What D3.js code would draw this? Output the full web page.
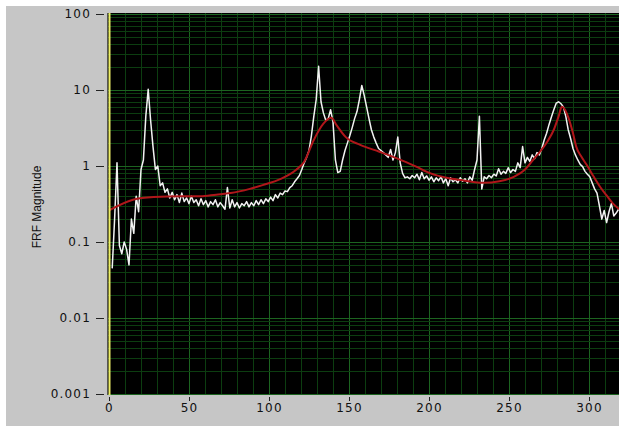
<!DOCTYPE html>
<html>
<head>
<meta charset="utf-8">
<script src="https://cdn.jsdelivr.net/npm/d3@7"></script>
<style>
  html, body { margin: 0; padding: 0; background: #fff; }
  svg { display: block; }
</style>
</head>
<body>
<svg id="chart" width="619" height="426"></svg>
<script>
// measured FRF, uniform frequency grid
const freqStart = 2;
const freqStep = 1.5;
const frfMag = [
  0.045, 0.2, 1.1, 0.09, 0.07, 0.1, 0.08, 0.05, 0.2, 0.13,
  0.4, 0.25, 0.9, 1.2, 4.5, 10.2, 4.0, 1.8, 0.9, 1.0,
  0.55, 0.6, 0.45, 0.5, 0.38, 0.45, 0.36, 0.42, 0.33, 0.44,
  0.34, 0.38, 0.32, 0.40, 0.33, 0.36, 0.30, 0.37, 0.31, 0.35,
  0.29, 0.34, 0.31, 0.36, 0.29, 0.33, 0.30, 0.27, 0.52, 0.28,
  0.36, 0.29, 0.33, 0.28, 0.32, 0.30, 0.34, 0.29, 0.33, 0.30,
  0.35, 0.31, 0.36, 0.32, 0.37, 0.34, 0.39, 0.35, 0.42, 0.38,
  0.44, 0.42, 0.47, 0.46, 0.52, 0.55, 0.62, 0.68, 0.75, 0.9,
  1.1, 1.3, 1.6, 2.5, 4.5, 7.5, 20.5, 7.0, 5.0, 4.0,
  4.2, 5.5, 3.8, 1.2, 0.82, 0.85, 1.2, 1.6, 2.0, 2.5,
  3.2, 4.2, 5.2, 7.5, 11.5, 8.5, 6.0, 4.2, 3.0, 2.4,
  2.0, 1.7, 1.6, 1.5, 1.4, 1.3, 1.65, 1.2, 1.5, 2.4,
  1.1, 0.8, 0.7, 0.72, 0.68, 0.75, 0.7, 0.78, 0.66, 0.82,
  0.68, 0.74, 0.65, 0.72, 0.62, 0.7, 0.64, 0.72, 0.6, 0.68,
  0.55, 0.7, 0.62, 0.66, 0.6, 0.7, 0.63, 0.68, 0.6, 0.72,
  0.65, 0.9, 1.2, 4.5, 0.5, 0.72, 0.68, 0.75, 0.7, 0.78,
  0.74, 0.92, 0.78, 0.85, 0.8, 0.95, 0.82, 0.9, 0.85, 1.1,
  0.95, 1.8, 1.1, 1.3, 1.15, 1.4, 1.25, 1.5, 1.4, 1.7,
  2.2, 2.7, 3.5, 4.4, 5.5, 6.7, 7.0, 6.6, 6.0, 4.5,
  3.0, 2.3, 1.7, 1.4, 1.2, 1.05, 0.98, 0.85, 0.78, 0.72,
  0.6, 0.5, 0.44, 0.3, 0.2, 0.26, 0.18, 0.25, 0.32, 0.22,
  0.24, 0.27
];

// curve fit
const fitFreq = [0, 15, 28, 45, 57, 67, 76, 88, 96, 107, 117, 122, 128, 134, 139,
  142, 148, 157, 169, 180, 192, 201, 211, 221, 234, 244, 253, 260, 265, 270,
  274, 278, 281, 283, 285, 287, 290, 292, 295, 299, 303, 307, 311, 315, 319];
const fitMag = [0.26, 0.36, 0.39, 0.40, 0.40, 0.42, 0.44, 0.50, 0.56, 0.67, 0.89, 1.14, 2.2, 3.6, 4.3,
  3.5, 2.4, 1.9, 1.54, 1.26, 0.98, 0.8, 0.7, 0.65, 0.6, 0.63, 0.72, 0.9, 1.2, 1.6,
  2.1, 3.0, 4.5, 6.0, 5.5, 4.4, 2.7, 1.8, 1.35, 1.0, 0.72, 0.53, 0.41, 0.32, 0.27];

const xTicks = [0, 50, 100, 150, 200, 250, 300];
const yTicks = [100, 10, 1, 0.1, 0.01, 0.001];
const yTickLabels = ['100', '10', '1', '0.1', '0.01', '0.001'];

const W = 619, H = 426;
const plot = { left: 107, right: 619, top: 13, bottom: 395 };

const svg = d3.select('#chart');

svg.append('rect')
  .attr('x', 6).attr('y', 6)
  .attr('width', W - 6).attr('height', H - 6)
  .attr('fill', '#c6c6c6');

const x = d3.scaleLinear().domain([0, 318.75]).range([109, 619]);
const y = d3.scaleLog().domain([0.001, 100]).range([394, 14]);

svg.append('defs').append('clipPath').attr('id', 'clip')
  .append('rect')
  .attr('x', plot.left).attr('y', plot.top)
  .attr('width', plot.right - plot.left).attr('height', plot.bottom - plot.top);

svg.append('rect')
  .attr('x', plot.left).attr('y', plot.top)
  .attr('width', plot.right - plot.left).attr('height', plot.bottom - plot.top)
  .attr('fill', '#000');

const grid = svg.append('g').attr('clip-path', 'url(#clip)');
const minorCol = '#0c3d10';
const majorCol = '#1c6420';

// vertical grid, every 10, brighter on 50s
grid.selectAll('line.vx')
  .data(d3.range(10, 320, 10))
  .join('line')
  .attr('x1', d => Math.round(x(d)) + 0.5).attr('x2', d => Math.round(x(d)) + 0.5)
  .attr('y1', plot.top).attr('y2', plot.bottom)
  .attr('stroke', d => d % 50 === 0 ? majorCol : minorCol)
  .attr('stroke-width', 1);

// horizontal grid, log minors
const minors = [];
[0.001, 0.01, 0.1, 1, 10].forEach(dec => {
  for (let m = 2; m <= 9; m++) minors.push(dec * m);
});
grid.selectAll('line.hm')
  .data(minors)
  .join('line')
  .attr('x1', plot.left).attr('x2', plot.right)
  .attr('y1', d => Math.round(y(d)) + 0.5).attr('y2', d => Math.round(y(d)) + 0.5)
  .attr('stroke', minorCol);

grid.selectAll('line.hM')
  .data(yTicks)
  .join('line')
  .attr('x1', plot.left).attr('x2', plot.right)
  .attr('y1', d => Math.round(y(d)) + 0.5).attr('y2', d => Math.round(y(d)) + 0.5)
  .attr('stroke', majorCol);

// data lines
const frf = frfMag.map((v, i) => [freqStart + i * freqStep, v]);
const fit = fitFreq.map((f, i) => [f, fitMag[i]]);

grid.append('path')
  .datum(frf)
  .attr('fill', 'none')
  .attr('stroke', '#f2f2f2')
  .attr('stroke-width', 1.5)
  .attr('stroke-linejoin', 'round')
  .attr('d', d3.line().x(d => x(d[0])).y(d => y(d[1])));

grid.append('path')
  .datum(fit)
  .attr('fill', 'none')
  .attr('stroke', '#b0161a')
  .attr('stroke-width', 2)
  .attr('d', d3.line().curve(d3.curveMonotoneX).x(d => x(d[0])).y(d => y(d[1])));

// left border + yellow zero line
svg.append('line')
  .attr('x1', plot.left + 0.5).attr('x2', plot.left + 0.5)
  .attr('y1', plot.top).attr('y2', plot.bottom)
  .attr('stroke', '#555');
svg.append('line')
  .attr('x1', x(0) + 0.5).attr('x2', x(0) + 0.5)
  .attr('y1', plot.top).attr('y2', plot.bottom)
  .attr('stroke', '#eeee66')
  .attr('stroke-width', 2);

// axes
const yAxis = svg.append('g')
  .attr('transform', 'translate(104,0)')
  .call(d3.axisLeft(y).tickValues(yTicks)
    .tickFormat((d, i) => yTickLabels[i]).tickSize(8).tickPadding(5));

const xAxis = svg.append('g')
  .attr('transform', `translate(0,${plot.bottom + 2})`)
  .call(d3.axisBottom(x).tickValues(xTicks).tickSize(4).tickPadding(2));

[yAxis, xAxis].forEach(ax => {
  ax.select('.domain').remove();
  ax.selectAll('line').attr('stroke', '#222');
  ax.selectAll('text')
    .attr('fill', '#111')
    .style('font-family', '"DejaVu Sans", sans-serif')
    .style('font-size', '12px')
    .style('letter-spacing', '1.2px');
});

svg.append('text')
  .attr('transform', 'translate(41,207) rotate(-90)')
  .attr('text-anchor', 'middle')
  .style('font-family', '"Liberation Sans Narrow", "Liberation Sans", sans-serif')
  .style('font-size', '12px')
  .attr('fill', '#111')
  .text('FRF Magnitude');
</script>
</body>
</html>
